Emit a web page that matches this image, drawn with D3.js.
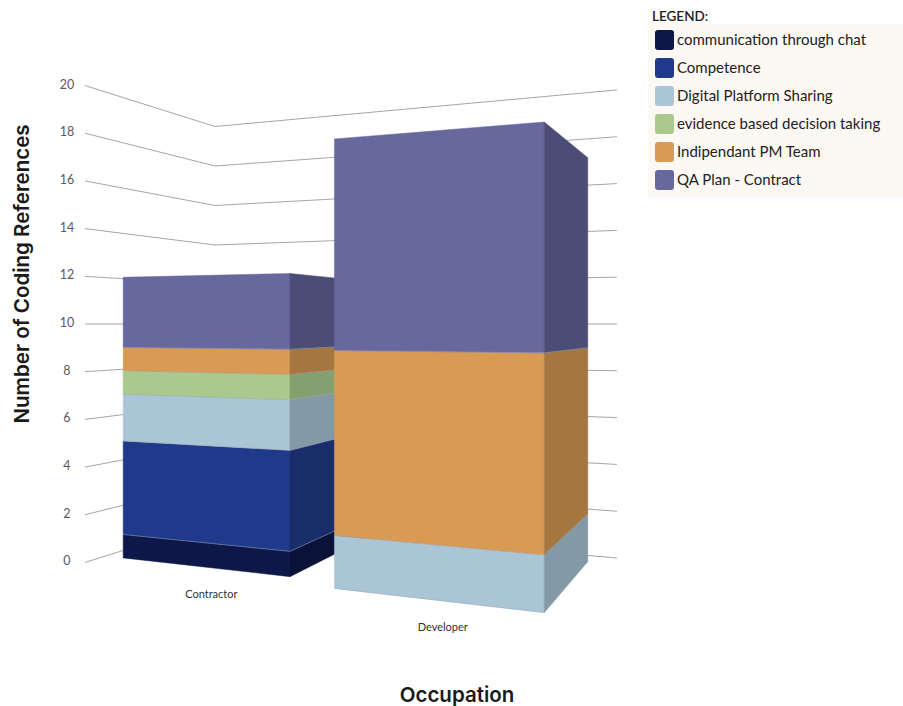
<!DOCTYPE html>
<html>
<head>
<meta charset="utf-8">
<script src="https://cdn.jsdelivr.net/npm/d3@7"></script>
<style>
  html, body { margin: 0; padding: 0; background: #ffffff; }
  svg { display: block; }
</style>
</head>
<body>
<svg id="chart" width="903" height="706"></svg>
<script>
// ---- data ----
const categories = ["Contractor", "Developer"];
const seriesNames = [
  "communication through chat",
  "Competence",
  "Digital Platform Sharing",
  "evidence based decision taking",
  "Indipendant PM Team",
  "QA Plan - Contract"
];
// values per series, one entry per category (Contractor, Developer)
const communicationThroughChat = [1, 0];
const competence = [4, 0];
const digitalPlatformSharing = [2, 2];
const evidenceBasedDecisionTaking = [1, 0];
const indipendantPMTeam = [1, 7];
const qaPlanContract = [3, 8];
const yTicks = [0, 2, 4, 6, 8, 10, 12, 14, 16, 18, 20];

// ---- styles ----
const frontColors = ["#0e1848", "#1f3a8a", "#aac6d6", "#a9c98f", "#d99b54", "#66689e"];
const sideColors  = ["#0a123a", "#182d6a", "#8399a6", "#85a06f", "#a5763f", "#4c4d76"];

const svg = d3.select("#chart");

// ---- 3D scene: two-point perspective camera ----
const cam = { cx: 450, f: 905, hy: 324, eyeHeight: 10, yaw: 20.6 * Math.PI / 180, corner: [-11.9, 45.82] };
const cosY = Math.cos(cam.yaw), sinY = Math.sin(cam.yaw);
// u: along the category axis, w: depth toward the viewer, h: height in value units
function project(u, w, h) {
  const xc = cam.corner[0] + u * cosY - w * sinY;
  const zc = cam.corner[1] - u * sinY - w * cosY;
  return [cam.cx + cam.f * xc / zc, cam.hy - cam.f * (h - cam.eyeHeight) / zc];
}

const floorWidth = 20.33, floorDepth = 8.57, leftWallU = -0.42;
const x = d3.scaleBand().domain(categories).range([0, floorWidth])
  .paddingInner(0.233).paddingOuter(0.072).align(0.37);
const y = d3.scaleLinear().domain([0, 20]).range([0, 20]);
const barDepth = 7.2;
const barFront = { Contractor: 7.4, Developer: 8.2 };
const barShift = { Contractor: 0, Developer: -0.08 };

const line = d3.line();

// ---- walls: gridlines ----
const grid = svg.append("g");
yTicks.forEach(t => {
  const pts = [project(leftWallU, floorDepth, y(t)), project(0, 0, y(t)), project(floorWidth, 0, y(t))];
  grid.append("path").attr("d", line(pts))
    .attr("fill", "none").attr("stroke", "#a6a6a6").attr("stroke-width", 1);
  const p = pts[0];
  grid.append("text").attr("x", p[0] - 18).attr("y", p[1] + 3)
    .attr("text-anchor", "middle")
    .attr("font-family", "Lato, sans-serif").attr("font-size", 12.5)
    .attr("fill", "#5a5a5a").text(t);
});

// ---- stacked columns ----
const table = categories.map((c, i) => {
  const row = { category: c };
  [communicationThroughChat, competence, digitalPlatformSharing,
   evidenceBasedDecisionTaking, indipendantPMTeam, qaPlanContract]
    .forEach((arr, k) => { row[seriesNames[k]] = arr[i]; });
  return row;
});
const stacked = d3.stack().keys(seriesNames)(table);

const bars = svg.append("g");
categories.forEach((cat, ci) => {
  const u0 = x(cat) + barShift[cat], u1 = u0 + x.bandwidth();
  const wf = barFront[cat], wb = wf - barDepth;
  const g = bars.append("g");
  stacked.forEach((layer, k) => {
    const seg = layer[ci];
    if (seg[1] - seg[0] <= 0) return;
    const h0 = y(seg[0]), h1 = y(seg[1]);
    // front face
    g.append("path").attr("d", line([
      project(u0, wf, h0), project(u1, wf, h0), project(u1, wf, h1), project(u0, wf, h1)
    ]) + "Z").attr("fill", frontColors[k]).attr("stroke", frontColors[k]).attr("stroke-width", 0.5);
    // right side face
    g.append("path").attr("d", line([
      project(u1, wf, h0), project(u1, wb, h0), project(u1, wb, h1), project(u1, wf, h1)
    ]) + "Z").attr("fill", sideColors[k]).attr("stroke", sideColors[k]).attr("stroke-width", 0.5);
  });
  // segment separators
  stacked.forEach((layer, k) => {
    const seg = layer[ci];
    if (k === 0 || seg[1] - seg[0] <= 0) return;
    const h = y(seg[0]);
    g.append("path").attr("d", line([project(u0, wf, h), project(u1, wf, h), project(u1, wb, h)]))
      .attr("fill", "none").attr("stroke", "#9aa3b5").attr("stroke-opacity", 0.6).attr("stroke-width", 0.8);
  });
  // category label
  const pc = project((u0 + u1) / 2, wf, 0);
  svg.append("text").attr("x", pc[0] + 8).attr("y", pc[1] + 31)
    .attr("text-anchor", "middle")
    .attr("font-family", "Lato, sans-serif").attr("font-size", 11)
    .attr("fill", "#333").text(cat);
});

// ---- axis titles ----
svg.append("text").attr("x", 457).attr("y", 702).attr("text-anchor", "middle")
  .attr("font-family", "Inter, 'Noto Sans', sans-serif").attr("font-size", 20.5).attr("font-weight", 600)
  .attr("fill", "#1a1a1a").text("Occupation");
svg.append("text").attr("transform", "translate(29,274) rotate(-90)").attr("text-anchor", "middle")
  .attr("font-family", "Inter, 'Noto Sans', sans-serif").attr("font-size", 20.5).attr("font-weight", 600)
  .attr("fill", "#1a1a1a").text("Number of Coding References");

// ---- legend ----
const legend = svg.append("g");
legend.append("rect").attr("x", 648).attr("y", 24).attr("width", 255).attr("height", 174).attr("fill", "#fcf8f3");
legend.append("text").attr("x", 652).attr("y", 21)
  .attr("font-family", "Lato, sans-serif").attr("font-size", 13.5).attr("font-weight", 600)
  .attr("fill", "#222").text("LEGEND:");
seriesNames.forEach((name, k) => {
  const cy = 40 + k * 28;
  legend.append("rect").attr("x", 655).attr("y", cy - 10).attr("width", 19).attr("height", 20)
    .attr("rx", 3).attr("fill", frontColors[k]);
  legend.append("text").attr("x", 677).attr("y", cy + 5)
    .attr("font-family", "Lato, sans-serif").attr("font-size", 15)
    .attr("fill", "#222").text(name);
});
</script>
</body>
</html>
